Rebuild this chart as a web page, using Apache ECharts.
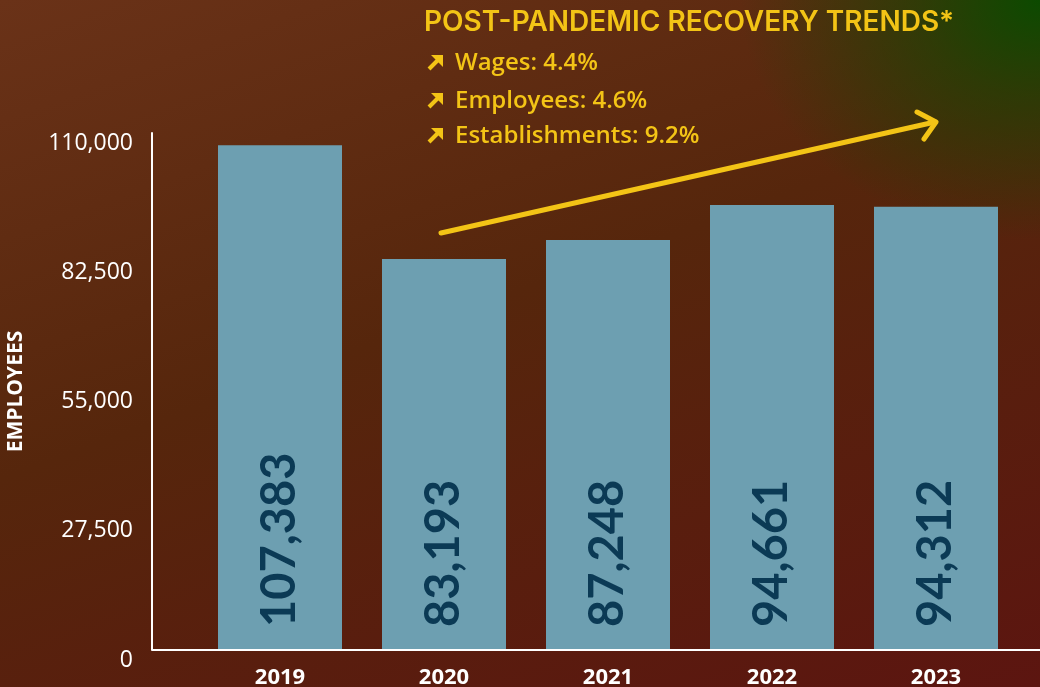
<!DOCTYPE html>
<html>
<head>
<meta charset="utf-8">
<script src="https://cdn.jsdelivr.net/npm/echarts@6/dist/echarts.min.js"></script>
<style>
  html, body { margin: 0; padding: 0; }
  body {
    width: 1040px; height: 687px; overflow: hidden;
    background:
      radial-gradient(ellipse 300px 240px at 100% 0%, rgba(12,74,0,1) 0%, rgba(12,74,0,0.55) 40%, rgba(12,74,0,0) 100%),
      linear-gradient(160deg, #6a3218 0%, #56260c 45%, #5c1510 100%);
  }
  #report { width: 1040px; height: 687px; }
</style>
</head>
<body>
<div id="report"></div>
<script>
// 数据
var years = ['2019', '2020', '2021', '2022', '2023'];
var employees = [107383, 83193, 87248, 94661, 94312];
var yTicks = [0, 27500, 55000, 82500, 110000];

var titleText = 'POST-PANDEMIC RECOVERY TRENDS*';
var trendLines = ['Wages: 4.4%', 'Employees: 4.6%', 'Establishments: 9.2%'];

var yellow = '#f3c416';

var report = echarts.init(document.getElementById('report'));

// 右上角的说明文字
var graphics = [
    {
        type: 'text', left: 424, top: 9,
        style: { text: titleText, fill: yellow, font: '600 28px Inter' }
    }
];
trendLines.forEach(function (t, i) {
    var y = [62, 100, 135][i]; // 每行的中心
    // 小箭头图标
    graphics.push({
        type: 'polyline', shape: { points: [[429, y + 7], [439, y - 3]] },
        style: { stroke: yellow, lineWidth: 4 }
    });
    graphics.push({
        type: 'polygon', shape: { points: [[431, y - 7], [443, y - 7], [443, y + 5]] },
        style: { fill: yellow }
    });
    graphics.push({
        type: 'text', left: 455, top: y - 11,
        style: { text: t, fill: yellow, font: '600 24px "Open Sans"' }
    });
});
// x轴线（比图表区更长）
graphics.push({
    type: 'line', shape: { x1: 152, y1: 650, x2: 1040, y2: 650 },
    style: { stroke: '#ffffff', lineWidth: 2 }, z: 10
});
// 黄色箭头
graphics.push({
    type: 'polyline', shape: { points: [[441, 233], [935, 122]] },
    style: { stroke: yellow, lineWidth: 5, lineCap: 'round' }, z: 10
});
graphics.push({
    type: 'polyline', shape: { points: [[917, 112], [936, 122], [924, 139]] },
    style: { stroke: yellow, lineWidth: 5, lineCap: 'round', lineJoin: 'round', fill: null }, z: 10
});

var option = {
    backgroundColor: 'transparent',
    animation: false,
    grid: { left: 198, right: 22, top: 133, bottom: 37, outerBoundsMode: 'none' },
    xAxis: {
        type: 'category',
        data: years,
        axisLine: { show: false },
        axisTick: { show: false },
        axisLabel: {
            color: '#ffffff', fontFamily: 'Open Sans', fontWeight: 'bold',
            fontSize: 22, margin: 17
        }
    },
    yAxis: {
        type: 'value',
        min: yTicks[0],
        max: yTicks[yTicks.length - 1],
        interval: yTicks[1] - yTicks[0],
        offset: 46,
        name: 'EMPLOYEES',
        nameLocation: 'middle',
        nameRotate: 90,
        nameGap: 125,
        nameTextStyle: { color: '#ffffff', fontFamily: 'Open Sans', fontWeight: 'bold', fontSize: 21 },
        axisLine: { show: true, lineStyle: { color: '#ffffff', width: 2 } },
        axisTick: { show: false },
        splitLine: { show: false },
        axisLabel: {
            color: '#ffffff', fontFamily: 'Open Sans', fontSize: 23, margin: 19,
            verticalAlign: 'top',
            lineHeight: 20,
            formatter: function (v) { return v.toLocaleString('en-US'); }
        }
    },
    series: [{
        type: 'bar',
        data: employees,
        barWidth: 124,
        itemStyle: { color: '#6d9fb1' },
        label: {
            show: true,
            position: 'insideBottom',
            rotate: 90,
            align: 'left',
            verticalAlign: 'middle',
            distance: 29,
            offset: [-6, 0],
            color: '#0b3a55',
            fontFamily: 'Lato',
            fontWeight: 'bold',
            fontSize: 47,
            formatter: function (p) { return p.value.toLocaleString('en-US'); }
        }
    }],
    graphic: graphics
};

report.setOption(option);
</script>
</body>
</html>
